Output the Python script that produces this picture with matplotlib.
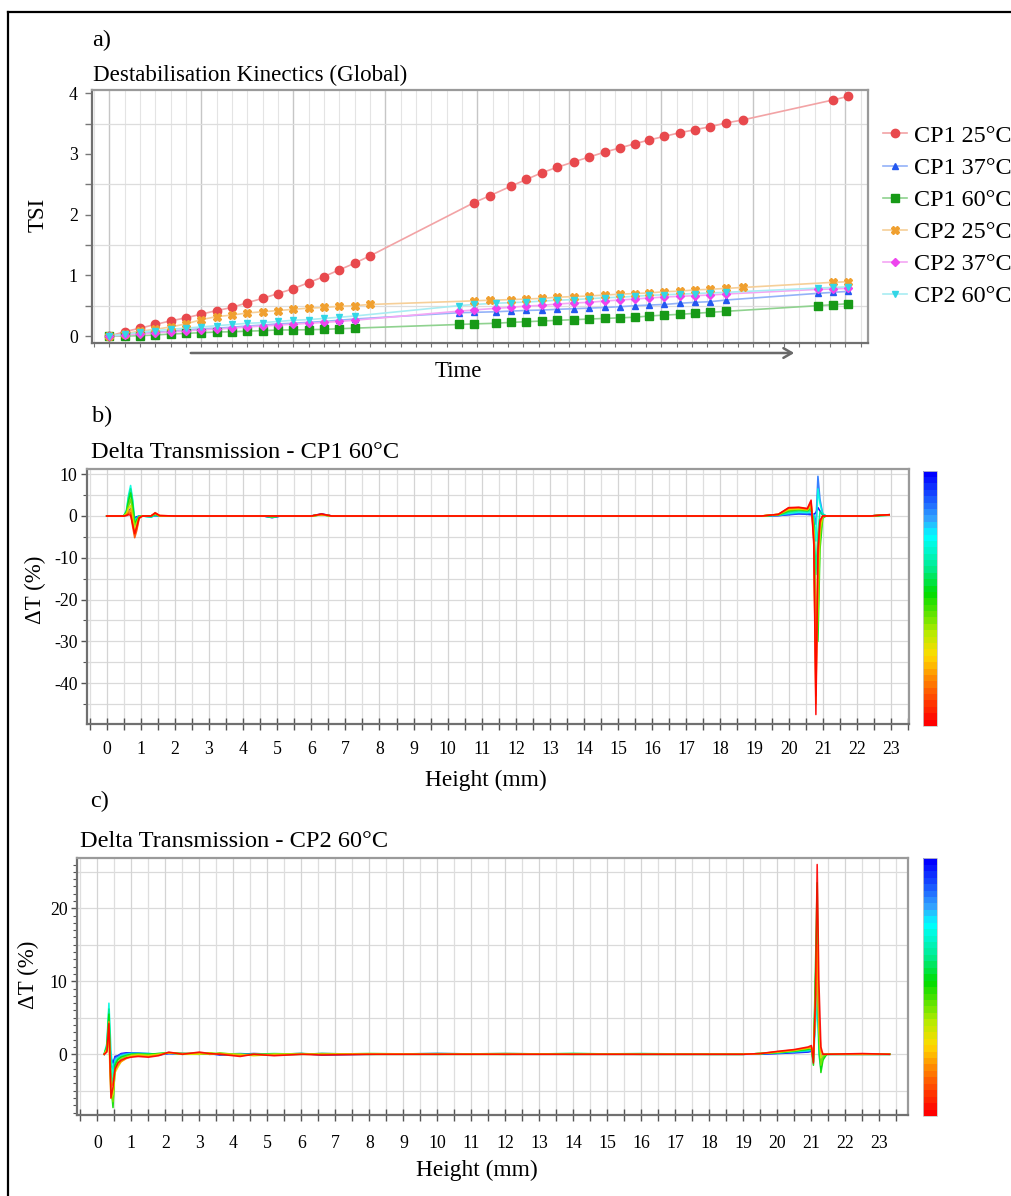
import numpy as np
import matplotlib
matplotlib.use("Agg")
import matplotlib.pyplot as plt
import matplotlib as mpl
from matplotlib.lines import Line2D
from matplotlib.colors import LinearSegmentedColormap, ListedColormap

W, H = 1011, 1196
SERIF = ["Liberation Serif", "DejaVu Serif"]

# ---------------- a) TSI kinetics ----------------
series_labels = ["CP1 25°C", "CP1 37°C", "CP1 60°C", "CP2 25°C", "CP2 37°C", "CP2 60°C"]

# measurement times (arbitrary time units, axis is unlabelled)
t_sched_a = [0, 1, 2, 3, 4, 5, 6, 7, 8, 9, 10, 11, 12, 13, 14, 15, 16, 17,
             23.8, 24.8, 26.2, 27.2, 28.2, 29.2, 30.3, 31.3, 32.3, 33.3, 34.3, 35.2,
             36.2, 37.2, 38.2, 39.2, 40.2, 41.3, 47.2, 48.2]
t_sched_b = [0, 1, 2, 3, 4, 5, 6, 7, 8, 9, 10, 11, 12, 13, 14, 15, 16,
             22.8, 23.8, 25.2, 26.2, 27.2, 28.2, 29.2, 30.3, 31.3, 32.3, 33.3, 34.3,
             35.2, 36.2, 37.2, 38.2, 39.2, 40.2, 46.2, 47.2, 48.2]

tsi_cp1_25 = [0, 0.07, 0.13, 0.19, 0.25, 0.30, 0.36, 0.42, 0.47, 0.55, 0.62, 0.70, 0.78, 0.88,
              0.98, 1.09, 1.20, 1.32,
              2.20, 2.31, 2.47, 2.58, 2.69, 2.78, 2.87, 2.95, 3.03, 3.10, 3.17, 3.23, 3.29,
              3.35, 3.40, 3.45, 3.51, 3.56, 3.89, 3.95]
tsi_cp1_37 = [0, 0.02, 0.04, 0.06, 0.08, 0.10, 0.12, 0.13, 0.145, 0.165, 0.18, 0.20, 0.21,
              0.225, 0.24, 0.26, 0.28,
              0.384, 0.39, 0.40, 0.411, 0.422, 0.428, 0.44, 0.45, 0.46, 0.47, 0.483, 0.50,
              0.51, 0.52, 0.54, 0.555, 0.566, 0.593, 0.703, 0.72, 0.736]
tsi_cp1_60 = [0, 0, 0.005, 0.017, 0.033, 0.044, 0.055, 0.066, 0.07, 0.08, 0.088, 0.10, 0.10,
              0.104, 0.11, 0.12, 0.13,
              0.19, 0.20, 0.21, 0.225, 0.236, 0.247, 0.258, 0.27, 0.28, 0.29, 0.30, 0.31,
              0.33, 0.345, 0.357, 0.374, 0.39, 0.407, 0.50, 0.516, 0.533]
tsi_cp2_25 = [0, 0.04, 0.08, 0.11, 0.15, 0.20, 0.27, 0.32, 0.345, 0.38, 0.40, 0.42, 0.44, 0.46,
              0.47, 0.49, 0.50, 0.52,
              0.58, 0.59, 0.60, 0.61, 0.62, 0.64, 0.65, 0.66, 0.675, 0.69, 0.70, 0.71, 0.73,
              0.74, 0.76, 0.77, 0.785, 0.80, 0.885, 0.895]
tsi_cp2_37 = [0, 0.015, 0.035, 0.05, 0.07, 0.085, 0.10, 0.115, 0.13, 0.15, 0.165, 0.18, 0.195,
              0.21, 0.225, 0.24, 0.26,
              0.41, 0.43, 0.456, 0.472, 0.494, 0.505, 0.527, 0.544, 0.555, 0.577, 0.593, 0.61,
              0.626, 0.643, 0.654, 0.665, 0.676, 0.692, 0.769, 0.775, 0.786]
tsi_cp2_60 = [0, 0.03, 0.06, 0.09, 0.11, 0.13, 0.15, 0.17, 0.19, 0.21, 0.22, 0.24, 0.26, 0.27,
              0.29, 0.31, 0.33,
              0.50, 0.52, 0.54, 0.55, 0.56, 0.575, 0.59, 0.60, 0.615, 0.63, 0.64, 0.655, 0.67,
              0.68, 0.69, 0.70, 0.71, 0.72, 0.79, 0.80, 0.81]

tsi_times = [t_sched_a, t_sched_b, t_sched_b, t_sched_a, t_sched_b, t_sched_b]
tsi_values = [tsi_cp1_25, tsi_cp1_37, tsi_cp1_60, tsi_cp2_25, tsi_cp2_37, tsi_cp2_60]

marker_colors = ["#e8494d", "#2358f0", "#179a17", "#f0a030", "#ee44ee", "#33d6e6"]
line_colors = ["#f2a3a5", "#93b2f8", "#8fd28f", "#f6cf98", "#f4a6f4", "#a8ecf2"]
markers = ["o", "^", "s", "X", "D", "v"]
msizes = [6.0, 5.0, 5.6, 6.0, 4.2, 5.0]

# ---------------- b) / c) delta transmission profiles ----------------
# relative acquisition time of each scan (0 = last, 1 = first)
scan_order_b = [1.0, 0.85, 0.72, 0.6, 0.5, 0.4, 0.3, 0.2, 0.1, 0.0]
height_b = [0.0, 0.5, 0.58, 0.64, 0.70, 0.76, 0.82, 0.88, 0.95, 1.05, 1.3, 1.42, 1.55, 2.0,
            4.6, 4.85, 5.1, 6.0, 6.3, 6.6, 19.2, 19.7, 20.0, 20.3, 20.55, 20.66, 20.74,
            20.80, 20.86, 20.92, 21.0, 21.1, 22.4, 22.7, 22.95]
dT_b = [
    [0, 0, 0.3, 1.0, 1.8, 0.8, -0.4, -0.2, 0, 0, 0, 0.1, 0, 0, 0, -0.4, 0, 0, 0.5, 0,
     0, 0.1, 0.3, 0.5, 0.4, 0.3, 0.4, 0.8, 2.0, 1.2, 0.2, 0, 0, 0.2, 0.3],
    [0, 0, 0.8, 2.5, 4.0, 2.0, -0.8, -0.4, 0, 0, -0.2, 0.1, 0, 0, 0, -0.3, 0, 0, 0.4, 0,
     0, 0.1, 0.4, 0.6, 0.5, 0.6, 0.2, -2.0, 9.5, 4.0, 0.5, 0, 0, 0.2, 0.2],
    [0, 0, 1.5, 5.0, 7.3, 4.0, -1.0, -0.6, 0, 0, -0.3, 0.2, 0, 0, 0, -0.3, 0, 0, 0.3, 0,
     0, 0.2, 0.6, 0.9, 0.8, 1.0, 0.0, -6.0, 6.5, 3.0, 0.5, 0, 0, 0.2, 0.3],
    [0, 0, 1.2, 4.5, 6.5, 3.5, -1.5, -0.8, 0, 0, -0.2, 0.3, 0, 0, 0, -0.2, 0, 0, 0.3, 0,
     0, 0.2, 0.9, 1.2, 1.1, 1.3, -1.0, -14.0, -4.0, 1.0, 0.3, 0, 0, 0.1, 0.2],
    [0, 0, 1.0, 3.5, 5.5, 2.5, -2.0, -1.0, -0.2, 0, 0, 0.4, 0, 0, 0, -0.2, 0, 0, 0.3, 0,
     0, 0.3, 1.2, 1.5, 1.3, 1.8, -2.0, -24.0, -30.0, -8.0, -0.5, 0, 0, 0.1, 0.2],
    [0, 0, 0.8, 2.5, 4.0, 1.0, -2.5, -1.5, -0.2, 0, 0, 0.5, 0, 0, 0, -0.1, 0, 0, 0.3, 0,
     0, 0.3, 1.4, 1.6, 1.4, 2.2, -3.0, -32.0, -25.0, -5.0, -0.3, 0, 0, 0.2, 0.3],
    [0, 0, 0.5, 1.8, 2.5, -0.5, -3.5, -2.0, -0.3, 0, 0, 0.6, 0, 0, 0, -0.1, 0, 0, 0.3, 0,
     0, 0.4, 1.6, 1.7, 1.5, 2.6, -4.0, -38.0, -18.0, -3.0, 0, 0, 0, 0.2, 0.3],
    [0, 0, 0.3, 1.0, 1.5, -1.5, -4.5, -3.0, -0.5, 0, 0, 0.7, 0.1, 0, 0, 0, 0, 0, 0.3, 0,
     0, 0.4, 1.8, 1.9, 1.6, 3.0, -5.0, -45.0, -12.0, -2.0, 0, 0, 0, 0.2, 0.3],
    [0, 0, 0.2, 0.6, 0.8, -2.5, -5.2, -3.5, -0.6, 0, 0, 0.8, 0.1, 0, 0, 0, 0, 0, 0.4, 0,
     0, 0.4, 1.9, 2.0, 1.7, 3.5, -6.0, -43.0, -10.0, -1.5, 0, 0, 0, 0.2, 0.3],
    [0, 0, 0.1, 0.3, 0.2, -2.0, -4.2, -2.5, -0.4, 0, 0, 0.7, 0.1, 0, 0, 0, 0, 0, 0.5, 0,
     0, 0.4, 2.0, 2.1, 1.8, 3.8, -7.0, -47.5, -8.0, -1.0, 0, 0, 0, 0.2, 0.3],
]

scan_order_c = [1.0, 0.85, 0.72, 0.6, 0.5, 0.4, 0.3, 0.18, 0.0]
height_c = [0.2, 0.28, 0.34, 0.40, 0.46, 0.52, 0.60, 0.70, 0.85, 1.0, 1.2, 1.5, 1.8, 2.1,
            2.5, 3.0, 3.3, 3.6, 4.2, 4.6, 5.2, 6.0, 6.6, 8.0, 10.0, 12.0, 14.0, 16.0, 18.0,
            19.0, 19.5, 20.0, 20.5, 20.9, 21.0, 21.06, 21.12, 21.17, 21.22, 21.28, 21.34,
            21.45, 22.5, 23.3]
dT_c = [
    [0, 0.5, 2.0, -0.5, -1.2, -0.3, -0.2, 0.1, 0.2, 0.2, 0.1, 0.0, -0.1, 0.1,
     0.1, 0, 0.1, -0.1, 0, 0.1, 0, 0.1, -0.1, 0, 0.1, 0, 0, 0, 0,
     0, 0, 0.1, 0.2, 0.3, 0.4, 0.3, 5.0, 11.5, 3.0, -0.5, 0, 0, 0, 0],
    [0, 1.0, 3.5, -1.5, -2.0, -0.5, -0.3, 0, 0.1, 0.2, 0.2, 0.1, 0, 0.1,
     0, 0.1, 0, 0, 0.1, 0, -0.1, 0, 0.1, 0, 0, 0.1, 0, 0, 0,
     0, 0.05, 0.15, 0.3, 0.4, 0.5, 0.2, 6.0, 9.0, 2.0, -1.0, -0.3, 0, 0, 0],
    [0, 1.5, 7.0, 0.5, -3.0, -0.8, -0.5, -0.2, 0, 0.1, 0.1, 0.1, 0, 0.2,
     0.1, 0.2, 0, 0.1, 0, -0.1, 0, 0.1, 0, 0.1, 0, 0, 0.1, 0, 0,
     0, 0.1, 0.2, 0.35, 0.5, 0.6, -0.5, 4.0, 8.0, 1.0, -1.5, -0.5, 0, 0, 0],
    [0, 1.2, 6.2, -2.5, -4.0, -1.2, -0.6, -0.3, -0.1, 0, 0.1, 0, 0.1, 0.2,
     0, 0.1, 0.1, 0, -0.1, 0, 0.1, 0, 0, 0, 0.1, 0, 0, 0.1, 0,
     0, 0.1, 0.2, 0.4, 0.6, 0.7, -1.0, 10.0, 17.0, 0, -2.0, -0.5, 0, 0, 0],
    [0, 1.0, 5.5, -4.0, -7.3, -1.5, -0.8, -0.4, -0.2, 0, 0, 0, 0.1, 0.2,
     0.1, 0, 0.2, 0, 0, -0.1, 0, 0, 0.1, 0, 0, 0, 0.1, 0, 0,
     0, 0.1, 0.25, 0.45, 0.7, 0.8, -1.5, 12.0, 23.5, 2.0, -2.5, -0.8, 0, 0, 0],
    [0, 0.8, 3.0, -5.0, -6.5, -2.0, -1.2, -0.6, -0.3, -0.1, 0, -0.1, 0, 0.2,
     0, 0.1, 0, 0.2, -0.1, 0, 0, 0.1, 0, 0, 0, 0.1, 0, 0, 0,
     0, 0.1, 0.3, 0.5, 0.8, 0.9, -1.0, 9.0, 20.0, 3.0, -1.5, -0.3, 0, 0, 0],
    [0, 0.6, 2.0, -6.0, -5.5, -2.5, -1.8, -1.0, -0.5, -0.2, -0.1, -0.2, 0, 0.2,
     0, 0, 0.2, 0, 0, -0.2, 0, 0, 0, 0.1, 0, 0, 0, 0, 0,
     0, 0.1, 0.3, 0.55, 0.85, 0.9, -0.5, 7.0, 14.0, 4.0, -0.5, 0, 0, 0, 0],
    [0, 0.5, 4.5, -4.5, -4.0, -2.2, -1.5, -1.0, -0.6, -0.3, -0.2, -0.3, -0.1, 0.2,
     0.1, 0.2, 0, 0.1, -0.2, 0, -0.1, 0, 0, 0, 0, 0, 0, 0, 0,
     0, 0.1, 0.35, 0.6, 0.9, 1.0, 0, 6.0, 15.0, 5.0, 0.5, 0, 0, 0, 0],
    [0, 0.3, 4.2, -6.0, -4.5, -2.0, -1.2, -0.8, -0.5, -0.4, -0.3, -0.4, -0.2, 0.3,
     0, 0.3, 0.1, 0, -0.3, 0, -0.2, 0, -0.1, 0, 0, 0, 0, 0, 0,
     0, 0.1, 0.4, 0.65, 1.0, 1.2, -1.2, 8.0, 26.0, 10.0, 1.0, 0, 0, 0.1, 0],
]

# ---------------- figure ----------------
fig = plt.figure(figsize=(W / 100, H / 100), dpi=100)
TICK_FS = 12.8


def rect(l, t, r, b):
    return [l / W, 1 - b / H, (r - l) / W, (b - t) / H]


def fx(x):
    return x / W


def fy(y):
    return 1 - y / H


# outer frame (left and top edges)
fig.add_artist(Line2D([fx(8), fx(8)], [fy(12), 0], color="black", lw=1.6))
fig.add_artist(Line2D([fx(8), 1], [fy(12), fy(12)], color="black", lw=1.6))


def style_frame(ax):
    for side in ["top", "right"]:
        ax.spines[side].set_color("#9a9a9a")
        ax.spines[side].set_linewidth(1.6)
    for side in ["left", "bottom"]:
        ax.spines[side].set_color("#707070")
        ax.spines[side].set_linewidth(1.6)


# ---- panel a ----
axa = fig.add_axes(rect(91.7, 90, 868.3, 343))
axa.set_xlim(-1.15, 49.5)
axa.set_ylim(-0.115, 4.054)
axa.set_xticks(np.arange(0, 49, 6))
axa.set_xticks(np.arange(-1, 50, 1), minor=True)
axa.set_yticks([0, 1, 2, 3, 4])
axa.set_yticks(np.arange(0, 4.01, 0.5), minor=True)
axa.tick_params(axis="x", which="both", labelbottom=False, length=3, width=0.8,
                color="#777777", direction="out")
axa.tick_params(axis="y", which="both", length=5, width=1.0, color="#777777", pad=5,
                labelsize=TICK_FS, labelcolor="#000000")
for lab in axa.get_yticklabels():
    lab.set_family(SERIF)
axa.grid(True, which="minor", axis="x", color="#e4e4e4", lw=0.8)
axa.grid(True, which="major", axis="x", color="#c6c6c6", lw=1.0)
axa.grid(True, which="minor", axis="y", color="#dddddd", lw=0.9)
axa.set_axisbelow(True)
style_frame(axa)

for t, v, mc, lc, m, ms in zip(tsi_times, tsi_values, marker_colors, line_colors, markers, msizes):
    axa.plot(t, v, color=lc, lw=1.2, zorder=2)
    axa.plot(t, v, ls="none", marker=m, ms=ms, color=mc, mec=mc, zorder=3)

handles = [Line2D([0], [0], color=lc, lw=1.2, marker=m, ms=ms, mfc=mc, mec=mc)
           for mc, lc, m, ms in zip(marker_colors, line_colors, markers, msizes)]
fig.legend(handles, series_labels, loc="upper left", bbox_to_anchor=(fx(882.5), fy(125)),
           frameon=False, prop={"family": SERIF, "size": 17.4}, handlelength=1.0,
           handletextpad=0.32, labelspacing=0.42, borderaxespad=0, borderpad=0)

fig.text(fx(92), fy(46.5), "a)", family=SERIF, fontsize=17.5, va="baseline", ha="left")
fig.text(fx(93), fy(81), "Destabilisation Kinectics (Global)", family=SERIF, fontsize=16.6,
         va="baseline", ha="left")
fig.text(fx(38), fy(215), "TSI", family=SERIF, fontsize=16.5, rotation=90,
         va="center", ha="center")
fig.text(fx(458), fy(377), "Time", family=SERIF, fontsize=16.5, va="baseline", ha="center")
fig.add_artist(matplotlib.patches.FancyArrowPatch(
    (fx(188), fy(353)), (fx(797), fy(353)), transform=fig.transFigure,
    arrowstyle="->,head_length=6,head_width=3.5", color="#6a6a6a", lw=1.8))

# ---- colour scale for the profiles ----
anchor_pos = [0.0, 0.08, 0.18, 0.27, 0.36, 0.52, 0.62, 0.75, 0.82, 0.9, 1.0]
anchor_col = [(1, 0, 0), (1, 0.22, 0), (1, 0.55, 0), (1, 0.86, 0), (0.72, 0.92, 0),
              (0, 0.86, 0), (0, 0.92, 0.55), (0, 1, 1), (0.2, 0.65, 1), (0.1, 0.35, 1), (0, 0, 1)]
smooth = LinearSegmentedColormap.from_list("scan", list(zip(anchor_pos, anchor_col)))
cmap = ListedColormap(smooth(np.linspace(0, 1, 40)))


def profile_panel(ax_rect, cax_rect, heights, profiles, order, xlim, ylim, yticks,
                  yminor, ygrid, label_pad):
    ax = fig.add_axes(rect(*ax_rect))
    ax.set_xlim(*xlim)
    ax.set_ylim(*ylim)
    ax.set_xticks(np.arange(0, 24, 1))
    ax.set_xticks(np.arange(-0.5, xlim[1], 0.5), minor=True)
    ax.set_yticks(yticks)
    ax.set_yticks(yminor, minor=True)
    ax.tick_params(axis="x", which="both", direction="inout", length=8, width=1.0,
                   color="#555555", pad=label_pad, labelsize=TICK_FS, labelcolor="#000000")
    ax.tick_params(axis="y", which="major", direction="out", length=4, width=1.0,
                   color="#555555", pad=3, labelsize=TICK_FS, labelcolor="#000000")
    ax.tick_params(axis="y", which="minor", direction="out", length=3, width=0.8,
                   color="#555555")
    ax.yaxis.set_major_formatter(mpl.ticker.FuncFormatter(lambda v, p: f"{v:.0f}"))
    for lab in ax.get_xticklabels() + ax.get_yticklabels():
        lab.set_family(SERIF)
    ax.set_axisbelow(True)
    ax.grid(True, which="minor", axis="x", color="#dedede", lw=0.9)
    ax.grid(True, which="major", axis="x", color="#d4d4d4", lw=0.9)
    for yv in ygrid:
        ax.axhline(yv, color="#dadada", lw=0.9, zorder=0)
    style_frame(ax)
    for prof, o in zip(profiles, order):
        ax.plot(heights, prof, color=cmap(o), lw=1.15, alpha=0.9)
    cax = fig.add_axes(rect(*cax_rect))
    cb = mpl.colorbar.ColorbarBase(cax, cmap=cmap, orientation="vertical")
    cb.set_ticks([])
    cb.outline.set_edgecolor("#c8c8c8")
    cb.outline.set_linewidth(0.6)
    return ax


# ---- panel b ----
axb = profile_panel((87.3, 469.3, 909.3, 724), (922.7, 470.7, 937.3, 726),
                    height_b, dT_b, scan_order_b, (-0.57, 23.54), (-49.76, 11.17),
                    [10, 0, -10, -20, -30, -40], np.arange(-45, 11, 5),
                    np.arange(-45, 11, 5), 8.5)
fig.text(fx(92), fy(422), "b)", family=SERIF, fontsize=17.5, va="baseline", ha="left")
fig.text(fx(91), fy(458), "Delta Transmission - CP1 60°C", family=SERIF, fontsize=17.6,
         va="baseline", ha="left")
fig.text(fx(35), fy(590), "ΔT (%)", family=SERIF, fontsize=16.5, rotation=90,
         va="center", ha="center")
fig.text(fx(486), fy(780), "Height (mm)", family=SERIF, fontsize=16.8, va="center",
         ha="center")

# ---- panel c ----
axc = profile_panel((77.3, 858.3, 908.3, 1115), (922.7, 858.3, 937.3, 1116),
                    height_c, dT_c, scan_order_c, (-0.59, 23.85), (-8.32, 26.85),
                    [0, 10, 20], np.arange(-8, 27, 1), np.arange(-5, 26, 5), 10.5)
fig.text(fx(90), fy(807), "c)", family=SERIF, fontsize=17.5, va="baseline", ha="left")
fig.text(fx(80), fy(847), "Delta Transmission - CP2 60°C", family=SERIF, fontsize=17.6,
         va="baseline", ha="left")
fig.text(fx(28), fy(975), "ΔT (%)", family=SERIF, fontsize=16.5, rotation=90,
         va="center", ha="center")
fig.text(fx(477), fy(1170), "Height (mm)", family=SERIF, fontsize=16.8, va="center",
         ha="center")

fig.savefig("out.png", dpi=100)
